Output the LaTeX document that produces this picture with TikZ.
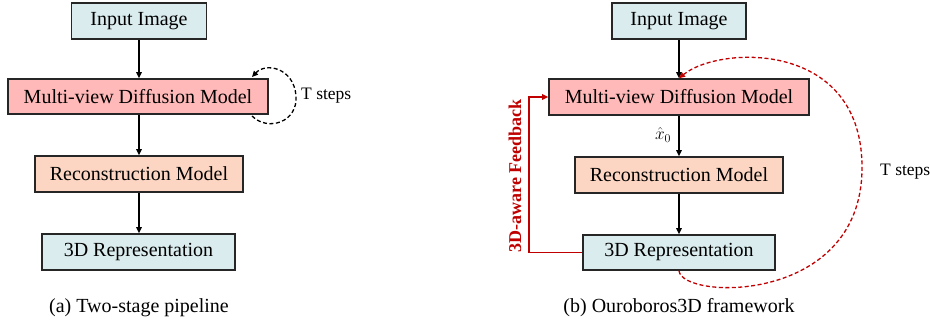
\documentclass[tikz,border=0pt]{standalone}
\usepackage{fontspec}
\setmainfont{Liberation Serif}
\newfontfamily\tnr{Liberation Serif}
\usetikzlibrary{arrows.meta}
\definecolor{cblue}{HTML}{DAECEE}
\definecolor{cpink}{HTML}{FFB9B9}
\definecolor{cpeach}{HTML}{FCD6C2}
\definecolor{cred}{HTML}{C00000}
\tikzset{
  box/.style={draw=black!85, line width=1.6pt, inner sep=0pt, font=\tnr\fontsize{20}{24}\selectfont},
  flow/.style={line width=1.5pt, -{Triangle[length=6pt,width=5.5pt]}},
  lbl/.style={inner sep=0pt, font=\tnr\fontsize{20}{24}\selectfont},
  slbl/.style={inner sep=0pt, font=\tnr\fontsize{17.5}{21}\selectfont},
}
\begin{document}
\begin{tikzpicture}[x=1pt,y=-1pt]
\useasboundingbox (0,0) rectangle (930,321);
% left panel
\node[box, fill=cblue, minimum width=135pt, minimum height=36pt] (in1) at (139,21) {Input Image};
\node[box, fill=cpink, minimum width=260pt, minimum height=35pt] (mvd1) at (138,96.5) {Multi-view Diffusion Model};
\node[box, fill=cpeach, minimum width=208pt, minimum height=36pt] (rec1) at (139,174) {Reconstruction Model};
\node[box, fill=cblue, minimum width=193pt, minimum height=36pt] (rep1) at (138.5,252) {3D Representation};
\draw[flow] (in1) -- (in1 |- mvd1.north);
\draw[flow] (mvd1.south -| in1) -- (in1 |- rec1.north);
\draw[flow] (rec1.south -| in1) -- (in1 |- rep1.north);
\coordinate (l1) at (252,116);
\coordinate (l2) at (252,77);
\draw[line width=1.3pt, dash pattern=on 4pt off 2.5pt, -{Triangle[length=6pt,width=5.5pt]}]
  (l1) .. controls (268,132) and (298,122) .. (296,96) .. controls (294,68) and (266,62) .. (l2);
\node[slbl, anchor=west] (ts1) at (301,96) {T steps};
\node[lbl] (capa) at (139,308) {(a) Two-stage pipeline};
% right panel
\node[box, fill=cblue, minimum width=134pt, minimum height=36pt] (in2) at (679,21) {Input Image};
\node[box, fill=cpink, minimum width=260pt, minimum height=36pt] (mvd2) at (679,97) {Multi-view Diffusion Model};
\node[box, fill=cpeach, minimum width=208pt, minimum height=36pt] (rec2) at (679,175) {Reconstruction Model};
\node[box, fill=cblue, minimum width=192pt, minimum height=35pt] (rep2) at (679,252.5) {3D Representation};
\draw[flow] (in2) -- (mvd2);
\draw[flow] (mvd2) -- (rec2);
\draw[flow] (rec2) -- (rep2);
\node[inner sep=0pt, font=\fontsize{18}{20}\selectfont] (x0) at (663,135) {$\hat{x}_0$};
\coordinate (fb) at (529,252.5);
\draw[cred, line width=1.4pt, -{Triangle[length=6pt,width=5.5pt]}] (rep2.west) -- (fb) |- (mvd2.west);
\node[inner sep=0pt, rotate=90, text=cred, font=\tnr\bfseries\fontsize{18}{20}\selectfont] (fbl) at (515,176) {3D-aware Feedback};
\draw[cred, line width=1.3pt, dash pattern=on 4pt off 2.5pt, -{Triangle[length=6pt,width=5.5pt]}]
  (rep2.south) .. controls (682,300) and (860,305) .. (862,170) .. controls (864,40) and (720,45) .. (mvd2.north);
\node[slbl, anchor=west] (ts2) at (880,172) {T steps};
\node[lbl] (capb) at (679,308) {(b) Ouroboros3D framework};
\end{tikzpicture}
\end{document}
